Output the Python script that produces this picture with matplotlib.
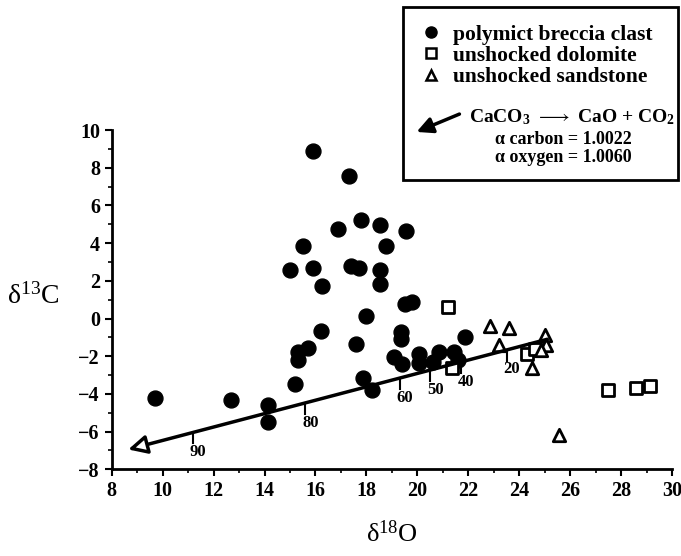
import matplotlib
matplotlib.use("Agg")
import matplotlib.pyplot as plt
from matplotlib.lines import Line2D
from matplotlib.patches import Rectangle, FancyArrowPatch
from matplotlib.ticker import MultipleLocator

plt.rcParams['font.family'] = ['Liberation Serif', 'DejaVu Serif']
plt.rcParams['mathtext.default'] = 'regular'

##### Data #####
# polymict breccia clast
breccia_d18O = [9.7, 12.7, 14.15, 14.15, 15.2, 15.3, 15.3, 15.7, 15.0, 15.5, 15.9, 15.9,
                16.25, 16.2, 16.9, 17.3, 17.4, 17.7, 17.6, 17.8, 18.0, 17.85, 18.2,
                18.55, 18.55, 18.55, 18.75, 19.1, 19.35, 19.35, 19.55, 19.5, 19.8,
                20.05, 20.05, 20.6, 20.85, 21.45, 21.6, 21.85, 19.4]
breccia_d13C = [-4.2, -4.3, -4.6, -5.5, -3.45, -1.75, -2.2, -1.55, 2.6, 3.85, 8.9, 2.7,
                1.7, -0.65, 4.75, 7.55, 2.8, 2.7, -1.35, 5.25, 0.15, -3.15, -3.8,
                4.95, 2.55, 1.85, 3.85, -2.05, -0.7, -1.1, 4.65, 0.75, 0.9,
                -1.9, -2.35, -2.3, -1.8, -1.8, -2.2, -1.0, -2.4]

# unshocked dolomite
dolomite_d18O = [21.2, 21.35, 24.3, 24.6, 27.5, 28.6, 29.15]
dolomite_d13C = [0.6, -2.6, -1.9, -1.6, -3.8, -3.7, -3.6]

# unshocked sandstone
sandstone_d18O = [22.85, 23.6, 23.2, 24.5, 25.0, 25.05, 24.85, 25.55]
sandstone_d13C = [-0.4, -0.5, -1.4, -2.6, -0.85, -1.4, -1.65, -6.2]

# degassing trend (CaCO3 -> CaO + CO2), start and arrow tip
trend_d18O = [25.1, 8.65]
trend_d13C = [-1.1, -6.95]

# percent-reacted marks along the trend
frac_labels = ['90', '80', '60', '50', '40', '20']
frac_d18O = [11.2, 15.6, 19.3, 20.5, 21.7, 23.5]
frac_d13C = [-6.06, -4.5, -3.18, -2.75, -2.32, -1.68]

##### Plot #####
fig = plt.figure(figsize=(6.81, 5.56), dpi=100)
ax = fig.add_axes([0.164, 0.156, 0.823, 0.610])

ax.scatter(breccia_d18O, breccia_d13C, s=115, c='black', marker='o', zorder=3,
           label='polymict breccia clast')
ax.scatter(dolomite_d18O, dolomite_d13C, s=70, facecolors='white', edgecolors='black',
           linewidths=2, marker='s', zorder=3, label='unshocked dolomite')
ax.scatter(sandstone_d18O, sandstone_d13C, s=80, facecolors='white', edgecolors='black',
           linewidths=2, marker='^', zorder=3, label='unshocked sandstone')

ax.annotate('', xy=(trend_d18O[1], trend_d13C[1]), xytext=(trend_d18O[0], trend_d13C[0]),
            arrowprops=dict(arrowstyle='-|>', lw=2.5, color='black', fc='white',
                            mutation_scale=28, shrinkA=0, shrinkB=0), zorder=4)

for lab, fx, fy in zip(frac_labels, frac_d18O, frac_d13C):
    ax.plot([fx, fx], [fy, fy - 0.55], color='black', lw=1.5, zorder=4)
    ax.text(fx + 0.2, fy - 0.6, lab, ha='center', va='top', fontsize=12,
            fontweight='bold')

ax.set_xlim(8, 30)
ax.set_ylim(-8, 10)
ax.xaxis.set_major_locator(MultipleLocator(2))
ax.xaxis.set_minor_locator(MultipleLocator(1))
ax.yaxis.set_major_locator(MultipleLocator(2))
ax.yaxis.set_minor_locator(MultipleLocator(1))
ax.spines['top'].set_visible(False)
ax.spines['right'].set_visible(False)
ax.spines['left'].set_linewidth(2)
ax.spines['bottom'].set_linewidth(2)
ax.tick_params(which='major', direction='out', length=5, width=1.5, labelsize=14.5)
ax.tick_params(which='minor', direction='out', length=3, width=1.2)
for t in ax.get_xticklabels() + ax.get_yticklabels():
    t.set_fontweight('bold')

ax.set_xlabel(r'$\delta^{18}$O', fontsize=19, labelpad=14)
ax.set_ylabel(r'$\delta^{13}$C', fontsize=20, rotation=0)
ax.yaxis.set_label_coords(-0.14, 0.47)

# legend box
fig.patches.append(Rectangle((403 / 681, 1 - 180 / 556), 275 / 681, 173 / 556,
                             transform=fig.transFigure, fill=False, lw=2, color='black'))
handles = [Line2D([], [], ls='none', marker='o', ms=8, color='black'),
           Line2D([], [], ls='none', marker='s', ms=7, mfc='white', mec='black', mew=1.8),
           Line2D([], [], ls='none', marker='^', ms=7, mfc='white', mec='black', mew=1.8)]
fig.legend(handles, ['polymict breccia clast', 'unshocked dolomite', 'unshocked sandstone'],
           loc='upper left', bbox_to_anchor=(412 / 681, 1 - 14 / 556), frameon=False,
           handlelength=0.8, handletextpad=0.6, labelspacing=0.05,
           prop=dict(family='Liberation Serif', weight='bold', size=15.5), borderpad=0)

fig.patches.append(FancyArrowPatch(
    (462 / 681, 1 - 113 / 556), (414 / 681, 1 - 133 / 556), transform=fig.transFigure,
    arrowstyle='-|>', mutation_scale=24, lw=2.5, color='black'))
fig.text(469 / 681, 1 - 117 / 556, r'CaCO$_3$ $\longrightarrow$ CaO + CO$_2$',
         fontsize=14, fontweight='bold', va='center', ha='left')
fig.text(563 / 681, 1 - 140 / 556, 'α carbon = 1.0022', fontsize=13, fontweight='bold',
         va='center', ha='center')
fig.text(563 / 681, 1 - 158 / 556, 'α oxygen = 1.0060', fontsize=13, fontweight='bold',
         va='center', ha='center')

fig.savefig('out.png', dpi=100)
